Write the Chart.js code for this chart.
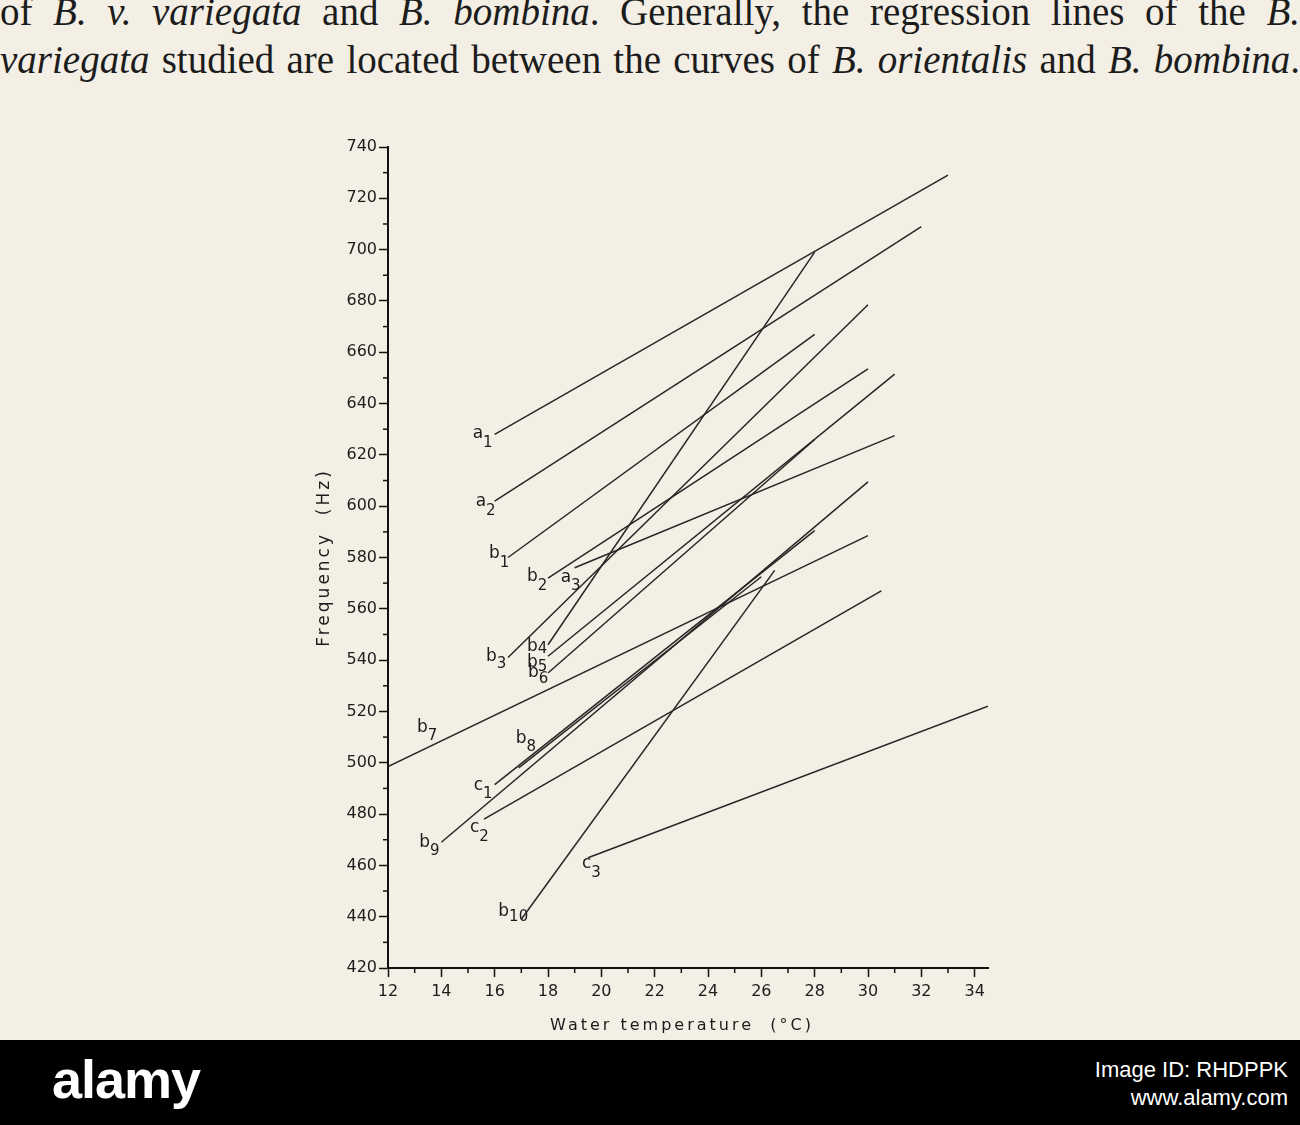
<!DOCTYPE html>
<html>
<head>
<meta charset="utf-8">
<script src="https://cdn.jsdelivr.net/npm/chart.js@4.4.1/dist/chart.umd.min.js"></script>
<style>
  body { margin: 0; width: 1300px; height: 1125px; overflow: hidden; background: #f4efe5; position: relative; }
  .txt { position: absolute; left: 0; width: 1300px; font-family: "Liberation Serif", serif; font-size: 39px;
         line-height: 48px; color: #1c1c1c; text-align: justify; text-align-last: justify; white-space: nowrap; }
  #chart { position: absolute; left: 0; top: 0; }
  #band { position: absolute; left: 0; top: 1040px; width: 1300px; height: 85px; background: #000; }
  #logo { position: absolute; left: 52px; top: 8px; color: #fff; font: bold 54px "Liberation Sans", sans-serif; letter-spacing: -1px; }
  #imgid { position: absolute; right: 12px; top: 16px; color: #fff; font: 22px "Liberation Sans", sans-serif; text-align: right; line-height: 28px; }
</style>
</head>
<body>
<div class="txt" style="top:-12px">of <i>B. v. variegata</i> and <i>B. bombina</i>. Generally, the regression lines of the <i>B.</i></div>
<div class="txt" style="top:36px"><i>variegata</i> studied are located between the curves of <i>B. orientalis</i> and <i>B. bombina</i>.</div>
<canvas id="chart" width="1300" height="1040"></canvas>
<div id="band"><div id="logo">alamy</div><div id="imgid">Image ID: RHDPPK<br>www.alamy.com</div></div>
<script>
// regression lines: start and end of each line
const lineNames = ['a1', 'a2', 'a3', 'b1', 'b2', 'b3', 'b4', 'b5', 'b6', 'b7', 'b8', 'b9', 'b10', 'c1', 'c2', 'c3'];
const startTemp = [16.0, 16.0, 19.0, 16.5, 18.0, 16.5, 18.0, 18.0, 18.0, 12.0, 16.9, 14.0, 17.0, 16.0, 15.6, 19.5];
const startFreq = [628, 602, 576, 580, 572, 541, 546, 541.5, 535, 498.5, 498, 469, 439, 491.5, 478, 463];
const endTemp   = [33.0, 32.0, 31.0, 28.0, 30.0, 30.0, 28.0, 31.0, 28.0, 30.0, 26.0, 30.0, 26.5, 28.0, 30.5, 34.5];
const endFreq   = [729, 709, 627.5, 667, 653.5, 678.5, 699, 651.5, 626, 588.5, 572.5, 609.5, 575, 590.5, 567, 522];

const xTicks = [12, 14, 16, 18, 20, 22, 24, 26, 28, 30, 32, 34];
const yTicks = [420, 440, 460, 480, 500, 520, 540, 560, 580, 600, 620, 640, 660, 680, 700, 720, 740];

// label placement relative to the start of each line (px) and subscript drop
const labelOffsets = [[-22, 4], [-19, 5], [-14, 14], [-19, 0], [-21, 3], [-22, 3], [-21, 6], [-21, 11], [-20, 4],
                      [29, -35], [-3, -25], [-22, 5], [-23, -3], [-21, 5], [-14, 13], [-6, 10]];
const subDrop = [9, 9, 8, 9, 9, 7, 2, 4, 6, 8, 8, 8, 5, 8, 9, 9];

Chart.defaults.font.family = '"DejaVu Sans", sans-serif';
Chart.defaults.color = '#1c1c1c';

const datasets = lineNames.map((name, i) => ({
  label: name,
  data: [{ x: startTemp[i], y: startFreq[i] }, { x: endTemp[i], y: endFreq[i] }],
  showLine: true,
  borderColor: '#262626',
  borderWidth: 1.5,
  pointRadius: 0,
  fill: false
}));

const decorations = {
  id: 'decorations',
  afterDraw(chart) {
    const ctx = chart.ctx, xs = chart.scales.x, ys = chart.scales.y, area = chart.chartArea;
    ctx.save();
    ctx.strokeStyle = '#111';
    ctx.lineWidth = 1.5;
    // minor ticks halfway between the labelled ones
    for (let i = 0; i < yTicks.length - 1; i++) {
      const y = ys.getPixelForValue((yTicks[i] + yTicks[i + 1]) / 2);
      ctx.beginPath(); ctx.moveTo(area.left - 5, y); ctx.lineTo(area.left, y); ctx.stroke();
    }
    for (let i = 0; i < xTicks.length - 1; i++) {
      const x = xs.getPixelForValue((xTicks[i] + xTicks[i + 1]) / 2);
      ctx.beginPath(); ctx.moveTo(x, area.bottom); ctx.lineTo(x, area.bottom + 5); ctx.stroke();
    }
    // line labels with subscripts
    ctx.fillStyle = '#1c1c1c';
    ctx.textAlign = 'left';
    ctx.textBaseline = 'alphabetic';
    lineNames.forEach((name, i) => {
      const px = xs.getPixelForValue(startTemp[i]) + labelOffsets[i][0];
      const py = ys.getPixelForValue(startFreq[i]) + labelOffsets[i][1];
      ctx.font = '17px "DejaVu Sans"';
      ctx.fillText(name[0], px, py);
      const w = ctx.measureText(name[0]).width;
      ctx.font = '15px "DejaVu Sans"';
      ctx.fillText(name.slice(1), px + w, py + subDrop[i]);
    });
    // axis titles
    ctx.letterSpacing = '3px';
    ctx.font = '16px "DejaVu Sans"';
    ctx.textAlign = 'center';
    ctx.fillText('Water temperature  (°C)', (area.left + area.right) / 2 - 6, area.bottom + 62);
    ctx.font = '17px "DejaVu Sans"';
    ctx.translate(area.left - 59, ys.getPixelForValue(580));
    ctx.rotate(-Math.PI / 2);
    ctx.fillText('Frequency  (Hz)', 0, 0);
    ctx.restore();
  }
};

var ctx = document.getElementById('chart').getContext('2d');
var chart = new Chart(ctx, {
  type: 'scatter',
  data: { datasets: datasets },
  options: {
    responsive: false,
    animation: false,
    devicePixelRatio: 1,
    layout: { padding: { left: 308, right: 312, top: 147, bottom: 2 } },
    plugins: { legend: { display: false }, tooltip: { enabled: false } },
    scales: {
      x: {
        type: 'linear',
        min: xTicks[0],
        max: xTicks[xTicks.length - 1] + 0.5,
        afterBuildTicks: (s) => { s.ticks = xTicks.map(v => ({ value: v })); },
        afterFit: (s) => { s.height = 70; },
        ticks: { font: { size: 16 }, padding: 5, maxRotation: 0, autoSkip: false },
        grid: { drawOnChartArea: false, tickLength: 9, tickWidth: 1.5, tickColor: '#111' },
        border: { display: true, width: 2, color: '#111' }
      },
      y: {
        min: yTicks[0],
        max: yTicks[yTicks.length - 1],
        afterBuildTicks: (s) => { s.ticks = yTicks.map(v => ({ value: v })); },
        afterFit: (s) => { s.width = 80; },
        ticks: { font: { size: 16 }, padding: 2, autoSkip: false },
        grid: { drawOnChartArea: false, tickLength: 9, tickWidth: 1.5, tickColor: '#111' },
        border: { display: true, width: 2, color: '#111' }
      }
    }
  },
  plugins: [decorations]
});
</script>
</body>
</html>
